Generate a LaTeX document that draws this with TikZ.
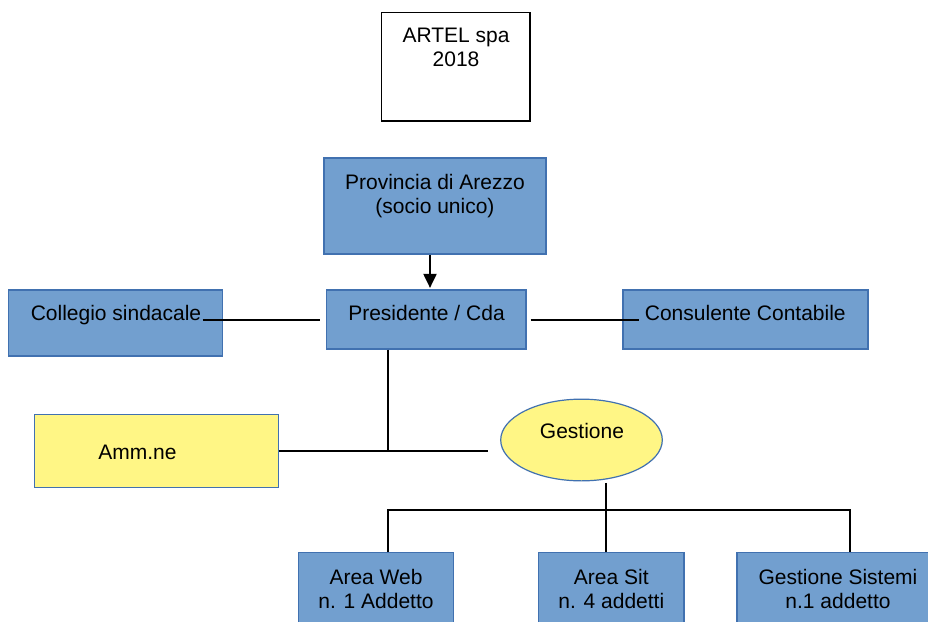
\documentclass[tikz,border=0pt]{standalone}
\usepackage{fontspec}
\setmainfont{Liberation Sans}
\usetikzlibrary{arrows.meta,calc,shapes.geometric}
\definecolor{bfill}{RGB}{114,159,207}
\definecolor{bdraw}{RGB}{65,113,176}
\definecolor{yfill}{RGB}{255,246,133}
\newcommand\twol[2]{\begin{tabular}[t]{@{}c@{}}#1\\#2\end{tabular}}
\begin{document}
\begin{tikzpicture}[x=1pt,y=-1pt,
  bbox/.style={draw=bdraw,fill=bfill,line width=1.2pt,inner sep=0pt},
  ybox/.style={draw=bdraw,fill=yfill,line width=1.2pt,inner sep=0pt},
  wbox/.style={draw=black,fill=white,line width=1.2pt,inner sep=0pt},
  lbl/.style={anchor=base,inner sep=0pt,font=\fontsize{21}{24}\selectfont},
  conn/.style={draw=black,line width=2pt}]
\clip (0,0) rectangle (928,621);
\fill[white] (0,0) rectangle (928,621);

% boxes
\node[wbox,minimum width=148.3pt,minimum height=108.7pt] (art) at (455.9,66.7) {};
\node[bbox,minimum width=222pt,minimum height=96pt] (prov) at (435,206) {};
\node[bbox,minimum width=199.5pt,minimum height=59pt] (pres) at (426.3,319.5) {};
\node[bbox,minimum width=214pt,minimum height=66pt] (col) at (115.7,323) {};
\node[bbox,minimum width=245pt,minimum height=59pt] (con) at (745.5,319.5) {};
\node[ybox,minimum width=244pt,minimum height=72.3pt] (amm) at (156.7,451) {};
\node[ybox,ellipse,minimum width=161.6pt,minimum height=81.7pt] (ges) at (581.5,440) {};
\node[bbox,minimum width=155pt,minimum height=100pt] (aw) at (376.2,602.7) {};
\node[bbox,minimum width=145.3pt,minimum height=100pt] (as) at (611.3,602.7) {};
\node[bbox,minimum width=202pt,minimum height=100pt] (gs) at (838,602.7) {};

% texts
\node[lbl] (tart) at (456,42.3) {\twol{ARTEL spa}{2018}};
\node[lbl] (tprov) at (435,189) {\twol{Provincia di Arezzo}{(socio unico)}};
\node[lbl] (tpres) at (426.5,320) {Presidente / Cda};
\node[lbl] (tcol) at (116,320) {Collegio sindacale};
\node[lbl] (tcon) at (745.3,320) {Consulente Contabile};
\node[lbl] (tamm) at (137.5,459) {Amm.ne};
\node[lbl] (tges) at (582,438) {Gestione};
\node[lbl] (taw) at (376,584.3) {\twol{Area Web}{n. 1 Addetto}};
\node[lbl] (tas) at (611.3,584.3) {\twol{Area Sit}{n. 4 addetti}};
\node[lbl] (tgs) at (838,584.3) {\twol{Gestione Sistemi}{n.1 addetto}};

% connectors
\draw[conn,-{Triangle[width=13pt,length=14pt]},shorten >=1.5pt] ([xshift=-5pt]prov.south) -- ([xshift=3.7pt]pres.north);
\coordinate (cs) at ([xshift=-20.7pt,yshift=3pt]col.east);
\draw[conn] (cs) -- ([xshift=-5.5pt]pres.west |- cs);
\coordinate (ps) at ([xshift=4pt,yshift=-0.5pt]pres.east);
\draw[conn] (ps) -- ([xshift=17pt]con.west |- ps);
\draw[conn] (amm.east) -- ([xshift=-11.7pt]ges.west |- amm.east);
\draw[conn] ([xshift=-38.3pt]pres.south) -- ([xshift=-38.3pt]pres.south |- amm.east);
\coordinate (bus) at (606,510);
\draw[conn] ([xshift=24.5pt,yshift=-1.5pt]ges.south) -- ([xshift=-5.3pt]as.north);
\draw[conn] ([xshift=11.8pt]aw.north) |- (bus) -| ([xshift=12pt]gs.north);
\end{tikzpicture}
\end{document}
